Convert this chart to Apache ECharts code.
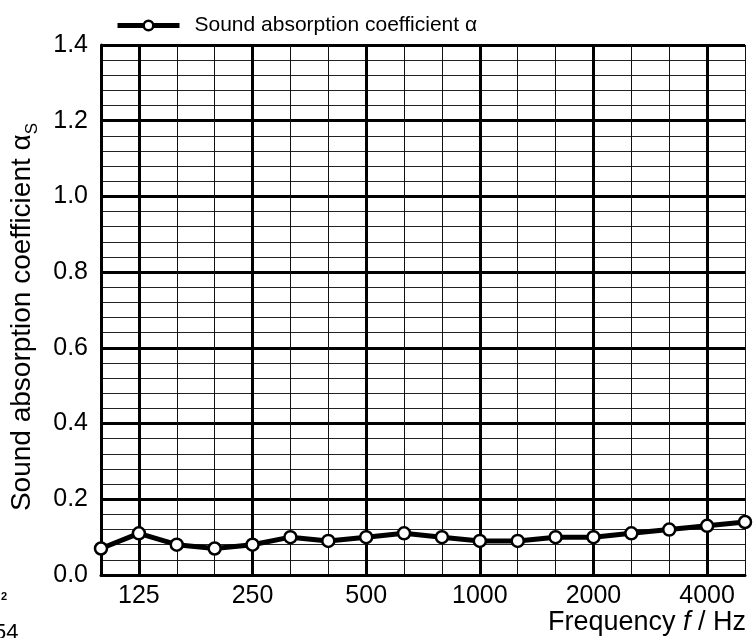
<!DOCTYPE html>
<html>
<head>
<meta charset="utf-8">
<script src="https://cdn.jsdelivr.net/npm/echarts@6/dist/echarts.min.js"></script>
<style>
html,body{margin:0;padding:0;background:#fff;}
#chart{width:755px;height:638px;}
</style>
</head>
<body>
<div id="chart"></div>
<script>
const frequencies = ['100','125','160','200','250','315','400','500','630','800','1000','1250','1600','2000','2500','3150','4000','5000'];
const alphaValues = [0.07,0.11,0.08,0.07,0.08,0.10,0.09,0.10,0.11,0.10,0.09,0.09,0.10,0.10,0.11,0.12,0.13,0.14];
const labeledFreqs = ['125','250','500','1000','2000','4000'];
const seriesName = 'Sound absorption coefficient α';

const FONT = 'Liberation Sans, Arial, sans-serif';
const chart = echarts.init(document.getElementById('chart'));
const isLabeled = (i) => labeledFreqs.indexOf(frequencies[i]) >= 0;

chart.setOption({
  animation: false,
  backgroundColor: '#fff',
  textStyle: { fontFamily: FONT },
  legend: {
    left: 110, top: 10,
    itemWidth: 62, itemHeight: 12, itemGap: 10,
    lineStyle: { width: 5, color: '#000' },
    itemStyle: { color: '#fff', borderColor: '#000', borderWidth: 2.5 },
    textStyle: { fontSize: 21, color: '#000', fontFamily: FONT, padding: [0, 0, 0, 10] },
    data: [{ name: seriesName }]
  },
  grid: { left: 101, right: 10, top: 45, bottom: 63 },
  xAxis: [
    {
      type: 'category', data: frequencies, boundaryGap: false, position: 'bottom',
      axisLine: { show: false }, axisTick: { show: false },
      axisLabel: { show: false },
      splitLine: { show: true, interval: 0, lineStyle: { color: '#111', width: 1 } }
    },
    {
      type: 'category', data: frequencies, boundaryGap: false, position: 'bottom',
      axisLine: { show: true, onZero: false, lineStyle: { color: '#000', width: 3 } },
      axisTick: { show: false },
      axisLabel: { show: true, interval: (i) => isLabeled(i), fontSize: 25, color: '#000', margin: 9, fontFamily: FONT },
      splitLine: { show: true, interval: (i) => isLabeled(i), lineStyle: { color: '#000', width: 3 } }
    }
  ],
  yAxis: [
    {
      type: 'value', min: 0, max: 1.4, interval: 0.04,
      axisLine: { show: false }, axisTick: { show: false }, axisLabel: { show: false },
      splitLine: { show: true, lineStyle: { color: '#222', width: 1 } }
    },
    {
      type: 'value', min: 0, max: 1.4, interval: 0.2, position: 'left',
      axisLine: { show: true, lineStyle: { color: '#000', width: 3 } },
      axisTick: { show: false },
      axisLabel: { fontSize: 25, color: '#000', margin: 13, formatter: v => v.toFixed(1), fontFamily: FONT },
      splitLine: { show: true, lineStyle: { color: '#000', width: 3 } }
    }
  ],
  series: [{
    name: seriesName,
    type: 'line',
    xAxisIndex: 1, yAxisIndex: 1,
    data: alphaValues,
    clip: false,
    symbol: 'circle', symbolSize: 12,
    lineStyle: { color: '#000', width: 5 },
    itemStyle: { color: '#fff', borderColor: '#000', borderWidth: 2.5 },
    z: 10
  }],
  graphic: [
    {
      type: 'text', x: 22, y: 317, rotation: Math.PI / 2,
      style: {
        text: '{a|Sound absorption coefficient α}{s|S}',
        align: 'center', verticalAlign: 'middle',
        rich: {
          a: { fontSize: 28, fill: '#000', fontFamily: FONT, verticalAlign: 'bottom' },
          s: { fontSize: 17, fill: '#000', fontFamily: FONT, verticalAlign: 'bottom', padding: [0, 0, -5, 0] }
        }
      }
    },
    {
      type: 'text', right: 9, top: 609,
      style: {
        text: '{a|Frequency }{b|f}{a| / Hz}',
        rich: {
          a: { fontSize: 27, fill: '#000', fontFamily: FONT },
          b: { fontSize: 27, fill: '#000', fontStyle: 'italic', fontFamily: FONT }
        }
      }
    },
    { type: 'text', left: 1, top: 591, style: { text: '2', fontSize: 11, fontWeight: 'bold', fill: '#000', fontFamily: FONT } },
    { type: 'text', left: -6, top: 622, style: { text: '54', fontSize: 22, fill: '#000', fontFamily: FONT } }
  ]
});
</script>
</body>
</html>
